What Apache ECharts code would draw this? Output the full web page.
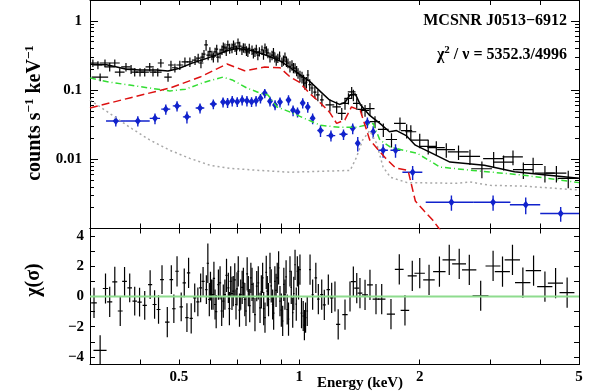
<!DOCTYPE html>
<html>
<head>
<meta charset="utf-8">
<script src="https://cdn.jsdelivr.net/npm/echarts@6/dist/echarts.min.js"></script>
<style>
html, body { margin: 0; padding: 0; background: #fff; }
#chart { width: 593px; height: 392px; }
</style>
</head>
<body>
<div id="chart"></div>
<script>
// pn spectrum: [energy keV, half bin width, counts/s/keV, error]
const pnData = [
  [0.305, 0.010, 0.246, 0.030], [0.314, 0.008, 0.230, 0.030], [0.318, 0.015, 0.154, 0.020],
  [0.327, 0.010, 0.246, 0.030], [0.336, 0.010, 0.216, 0.030], [0.346, 0.010, 0.246, 0.030],
  [0.356, 0.010, 0.182, 0.025], [0.369, 0.010, 0.216, 0.030], [0.380, 0.010, 0.200, 0.030],
  [0.388, 0.008, 0.182, 0.025], [0.400, 0.010, 0.182, 0.025], [0.411, 0.010, 0.182, 0.025],
  [0.423, 0.010, 0.216, 0.030], [0.431, 0.008, 0.182, 0.025], [0.443, 0.010, 0.182, 0.025],
  [0.451, 0.008, 0.246, 0.035], [0.470, 0.010, 0.154, 0.022], [0.478, 0.008, 0.230, 0.035],
  [0.489, 0.008, 0.210, 0.030], [0.503, 0.010, 0.230, 0.035], [0.518, 0.010, 0.255, 0.040],
  [0.533, 0.010, 0.255, 0.040], [0.549, 0.010, 0.270, 0.040], [0.559, 0.008, 0.290, 0.045],
  [0.568, 0.008, 0.246, 0.040], [0.572, 0.006, 0.300, 0.045], [0.578, 0.005, 0.330, 0.050],
  [0.585, 0.006, 0.450, 0.080], [0.592, 0.006, 0.320, 0.050], [0.598, 0.005, 0.360, 0.055],
  [0.605, 0.006, 0.320, 0.050], [0.610, 0.005, 0.300, 0.050], [0.616, 0.006, 0.355, 0.055],
  [0.622, 0.005, 0.390, 0.060], [0.626, 0.006, 0.300, 0.050], [0.634, 0.005, 0.340, 0.055],
  [0.641, 0.006, 0.380, 0.060], [0.646, 0.005, 0.420, 0.065], [0.652, 0.006, 0.406, 0.065],
  [0.657, 0.005, 0.370, 0.060], [0.663, 0.006, 0.450, 0.070], [0.670, 0.005, 0.400, 0.065],
  [0.679, 0.006, 0.406, 0.065], [0.685, 0.005, 0.450, 0.070], [0.691, 0.006, 0.420, 0.065],
  [0.697, 0.005, 0.380, 0.060], [0.703, 0.006, 0.480, 0.075], [0.710, 0.005, 0.430, 0.070],
  [0.719, 0.006, 0.380, 0.060], [0.725, 0.005, 0.410, 0.065], [0.732, 0.006, 0.406, 0.065],
  [0.738, 0.005, 0.370, 0.060], [0.744, 0.006, 0.355, 0.055], [0.750, 0.005, 0.400, 0.065],
  [0.762, 0.006, 0.380, 0.060], [0.768, 0.005, 0.340, 0.055], [0.775, 0.006, 0.355, 0.055],
  [0.781, 0.005, 0.390, 0.060], [0.788, 0.006, 0.320, 0.050], [0.795, 0.005, 0.360, 0.055],
  [0.807, 0.006, 0.380, 0.060], [0.814, 0.005, 0.330, 0.055], [0.821, 0.006, 0.406, 0.065],
  [0.828, 0.005, 0.370, 0.060], [0.835, 0.006, 0.344, 0.055], [0.845, 0.005, 0.300, 0.050],
  [0.855, 0.006, 0.320, 0.050], [0.862, 0.005, 0.350, 0.055], [0.869, 0.006, 0.300, 0.050],
  [0.876, 0.005, 0.270, 0.045], [0.884, 0.006, 0.290, 0.045], [0.893, 0.005, 0.310, 0.050],
  [0.905, 0.006, 0.255, 0.040], [0.913, 0.005, 0.270, 0.045], [0.921, 0.006, 0.300, 0.050],
  [0.929, 0.005, 0.260, 0.045], [0.937, 0.006, 0.246, 0.040], [0.948, 0.005, 0.220, 0.040],
  [0.959, 0.006, 0.230, 0.040], [0.967, 0.005, 0.210, 0.035], [0.976, 0.006, 0.208, 0.035],
  [0.985, 0.005, 0.190, 0.032], [0.993, 0.006, 0.176, 0.030], [1.004, 0.006, 0.160, 0.030],
  [1.016, 0.008, 0.154, 0.030], [1.025, 0.006, 0.140, 0.027], [1.033, 0.008, 0.126, 0.025],
  [1.042, 0.006, 0.130, 0.025], [1.051, 0.008, 0.165, 0.030], [1.062, 0.008, 0.120, 0.023],
  [1.076, 0.010, 0.107, 0.020], [1.094, 0.010, 0.0935, 0.018],
  [1.113, 0.012, 0.085, 0.016], [1.139, 0.012, 0.072, 0.014], [1.193, 0.030, 0.061, 0.012],
  [1.240, 0.030, 0.0573, 0.011], [1.277, 0.030, 0.046, 0.009], [1.301, 0.030, 0.064, 0.012],
  [1.327, 0.030, 0.076, 0.014], [1.352, 0.030, 0.094, 0.017], [1.365, 0.030, 0.085, 0.016],
  [1.392, 0.030, 0.064, 0.012], [1.432, 0.035, 0.0525, 0.010], [1.460, 0.035, 0.051, 0.010],
  [1.502, 0.040, 0.054, 0.011], [1.546, 0.045, 0.035, 0.007], [1.622, 0.050, 0.027, 0.006],
  [1.700, 0.055, 0.0193, 0.0045], [1.785, 0.060, 0.033, 0.007], [1.855, 0.060, 0.026, 0.006],
  [1.900, 0.060, 0.025, 0.006], [2.00, 0.10, 0.0189, 0.0045], [2.10, 0.10, 0.0154, 0.0037],
  [2.20, 0.11, 0.0147, 0.0035], [2.33, 0.12, 0.0138, 0.0033], [2.50, 0.15, 0.0128, 0.0030],
  [2.67, 0.16, 0.0110, 0.0027], [2.86, 0.17, 0.0073, 0.0020], [3.06, 0.18, 0.0102, 0.0025],
  [3.24, 0.19, 0.0091, 0.0022], [3.42, 0.20, 0.0108, 0.0026], [3.63, 0.21, 0.0071, 0.0019],
  [3.84, 0.22, 0.0084, 0.0021], [4.11, 0.24, 0.0063, 0.0017], [4.39, 0.26, 0.0063, 0.0017],
  [4.70, 0.28, 0.0053, 0.0015]
];

// MOS spectrum (blue)
const mosData = [
  [0.348, 0.019, 0.0357, 0.006], [0.395, 0.028, 0.0357, 0.006], [0.436, 0.013, 0.039, 0.007],
  [0.464, 0.012, 0.053, 0.009], [0.495, 0.012, 0.059, 0.010], [0.524, 0.012, 0.041, 0.008],
  [0.565, 0.014, 0.055, 0.009], [0.610, 0.012, 0.063, 0.010], [0.645, 0.008, 0.067, 0.011],
  [0.662, 0.006, 0.066, 0.011], [0.680, 0.006, 0.070, 0.012], [0.700, 0.006, 0.068, 0.011],
  [0.720, 0.006, 0.072, 0.012], [0.740, 0.006, 0.070, 0.012], [0.760, 0.006, 0.068, 0.011],
  [0.780, 0.006, 0.070, 0.012], [0.800, 0.006, 0.076, 0.012], [0.820, 0.006, 0.090, 0.014],
  [0.845, 0.006, 0.069, 0.011], [0.870, 0.006, 0.061, 0.010], [0.895, 0.006, 0.067, 0.011],
  [0.940, 0.008, 0.072, 0.012], [0.965, 0.008, 0.051, 0.009], [0.990, 0.008, 0.048, 0.008],
  [1.020, 0.010, 0.065, 0.011], [1.050, 0.010, 0.057, 0.010], [1.080, 0.010, 0.039, 0.007],
  [1.130, 0.020, 0.026, 0.005], [1.200, 0.030, 0.022, 0.004], [1.290, 0.030, 0.023, 0.004],
  [1.360, 0.020, 0.028, 0.005], [1.400, 0.015, 0.017, 0.004], [1.480, 0.020, 0.034, 0.006],
  [1.530, 0.020, 0.025, 0.005], [1.620, 0.045, 0.0135, 0.003], [1.740, 0.050, 0.0135, 0.003],
  [1.920, 0.110, 0.0065, 0.0015], [2.40, 0.33, 0.0024, 0.0006], [3.05, 0.32, 0.0024, 0.0006],
  [3.68, 0.32, 0.0022, 0.0006], [4.50, 0.50, 0.00165, 0.0004]
];

// residuals: [energy, half bin width, chi, error]
const residData = [
  [0.307, 0.005, -0.42, 1.0], [0.318, 0.012, -3.56, 1.0], [0.328, 0.005, 0.53, 1.0],
  [0.336, 0.005, -0.35, 1.0], [0.346, 0.005, 0.97, 1.0], [0.357, 0.005, -0.96, 1.0],
  [0.366, 0.005, 1.00, 0.95], [0.377, 0.005, 0.57, 0.95], [0.388, 0.005, -0.30, 0.95],
  [0.399, 0.005, -0.37, 0.95], [0.411, 0.005, -0.59, 0.95], [0.424, 0.005, 0.79, 0.95],
  [0.435, 0.005, -0.53, 0.95], [0.445, 0.005, -0.86, 0.95], [0.454, 0.005, 1.12, 0.95],
  [0.468, 0.006, -1.69, 1.0], [0.479, 0.005, 1.12, 0.95], [0.486, 0.005, -0.81, 0.95],
  [0.495, 0.005, 1.67, 1.0], [0.507, 0.005, -0.68, 0.95], [0.516, 0.005, 0.90, 0.95],
  [0.524, 0.005, -1.40, 0.95], [0.529, 0.005, 1.56, 1.0], [0.537, 0.005, -1.45, 1.0],
  [0.548, 0.005, -0.09, 0.95], [0.558, 0.005, -0.35, 0.95], [0.567, 0.005, 0.57, 0.95],
  [0.575, 0.005, 1.00, 0.95], [0.586, 0.004, 0.46, 0.95], [0.591, 0.004, 2.20, 1.3],
  [0.596, 0.004, -0.20, 1.1], [0.600, 0.004, 0.68, 0.95], [0.604, 0.004, 0.13, 1.0],
  [0.609, 0.004, 0.13, 1.0], [0.612, 0.004, 1.20, 1.1], [0.616, 0.004, -0.53, 1.0],
  [0.620, 0.004, -1.00, 1.1], [0.628, 0.004, 0.79, 1.0], [0.634, 0.004, 0.90, 1.1],
  [0.640, 0.004, -0.96, 1.0], [0.646, 0.004, -0.30, 1.1], [0.652, 0.004, 0.13, 1.0],
  [0.658, 0.004, 1.40, 1.1], [0.665, 0.004, 0.57, 1.0], [0.669, 0.004, -0.80, 1.1],
  [0.674, 0.004, 1.00, 1.0], [0.679, 0.004, 0.20, 1.1], [0.684, 0.004, 0.36, 1.0],
  [0.690, 0.004, 1.10, 1.1], [0.695, 0.004, -0.53, 1.0], [0.699, 0.004, 0.50, 1.1],
  [0.704, 0.004, 1.67, 1.0], [0.709, 0.004, -0.90, 1.1], [0.714, 0.004, 0.13, 1.0],
  [0.720, 0.004, 0.60, 1.1], [0.725, 0.004, 0.90, 1.0], [0.731, 0.004, -0.20, 1.1],
  [0.736, 0.004, -0.96, 1.0], [0.741, 0.004, 1.50, 1.1], [0.746, 0.004, 0.36, 1.0],
  [0.752, 0.004, -0.60, 1.1], [0.757, 0.004, 1.23, 1.0], [0.762, 0.004, 0.80, 1.1],
  [0.767, 0.004, -0.09, 1.0], [0.775, 0.004, -1.20, 1.1], [0.783, 0.004, 0.68, 1.0],
  [0.790, 0.004, 0.90, 1.1], [0.798, 0.004, -0.75, 1.0], [0.804, 0.004, 0.30, 1.1],
  [0.810, 0.004, 1.23, 1.0], [0.815, 0.004, -0.80, 1.1], [0.821, 0.004, -1.40, 1.0],
  [0.827, 0.004, 1.60, 1.1], [0.832, 0.004, 0.36, 1.0], [0.838, 0.004, -0.20, 1.1],
  [0.845, 0.004, 1.89, 1.0], [0.851, 0.004, 0.70, 1.1], [0.858, 0.004, -0.53, 1.0],
  [0.863, 0.004, -1.10, 1.1], [0.869, 0.004, 1.00, 1.0], [0.875, 0.004, 0.40, 1.1],
  [0.881, 0.004, 1.23, 1.0], [0.888, 0.004, 1.90, 1.1], [0.895, 0.004, -0.30, 1.0],
  [0.902, 0.004, -0.90, 1.1], [0.909, 0.004, -1.62, 1.0], [0.915, 0.004, 0.80, 1.1],
  [0.921, 0.004, 0.13, 1.0], [0.927, 0.004, 1.30, 1.1], [0.933, 0.004, -0.86, 1.0],
  [0.940, 0.004, -1.50, 1.1], [0.948, 0.004, 1.67, 1.0], [0.955, 0.004, 0.60, 1.1],
  [0.963, 0.004, -1.07, 1.0], [0.969, 0.004, 0.20, 1.1], [0.976, 0.004, 2.10, 1.0],
  [0.983, 0.004, -0.50, 1.1], [0.989, 0.004, 1.67, 1.0], [0.996, 0.004, 0.90, 1.1],
  [1.004, 0.005, 1.78, 1.0],
  [1.013, 0.005, -1.10, 1.0], [1.023, 0.005, -1.29, 1.0], [1.030, 0.005, -1.90, 1.0],
  [1.037, 0.005, -1.40, 1.0], [1.047, 0.005, -0.96, 1.0], [1.064, 0.006, 1.78, 1.0],
  [1.080, 0.006, 0.13, 1.0], [1.100, 0.008, 1.23, 1.0], [1.116, 0.008, -0.17, 1.0],
  [1.138, 0.010, 0.13, 1.0], [1.155, 0.010, -0.55, 1.0], [1.182, 0.012, 0.46, 1.0],
  [1.205, 0.012, -0.09, 1.0], [1.228, 0.015, 0.00, 1.0], [1.251, 0.015, -1.85, 1.0],
  [1.301, 0.020, -1.20, 1.0], [1.339, 0.020, 0.00, 1.0], [1.365, 0.020, 0.99, 1.0],
  [1.392, 0.020, 0.55, 1.0], [1.418, 0.020, 0.22, 1.0], [1.460, 0.025, 0.11, 1.0],
  [1.502, 0.025, 0.77, 1.0], [1.555, 0.030, -0.17, 1.0], [1.607, 0.035, -0.17, 1.0],
  [1.695, 0.040, -1.16, 1.0], [1.778, 0.045, 1.80, 1.0], [1.837, 0.045, -0.92, 1.0],
  [1.916, 0.050, 1.36, 1.0], [2.00, 0.06, 1.54, 1.0], [2.11, 0.07, 1.10, 1.0],
  [2.24, 0.08, 1.65, 1.0], [2.37, 0.09, 2.42, 1.0], [2.51, 0.10, 2.16, 1.0],
  [2.66, 0.11, 1.76, 1.0], [2.84, 0.13, 0.05, 1.0], [3.05, 0.13, 2.02, 1.0],
  [3.22, 0.14, 1.65, 1.0], [3.41, 0.15, 2.42, 1.0], [3.62, 0.16, 0.92, 1.0],
  [3.85, 0.17, 1.71, 1.0], [4.11, 0.18, 0.66, 1.0], [4.37, 0.19, 0.88, 1.0],
  [4.67, 0.20, 0.26, 1.0]
];

// models: [energy, counts/s/keV]
const modelTotal = [
  [0.30, 0.235], [0.33, 0.232], [0.35, 0.215], [0.37, 0.200], [0.40, 0.195], [0.44, 0.195],
  [0.47, 0.188], [0.50, 0.205], [0.54, 0.245], [0.58, 0.280], [0.62, 0.320], [0.66, 0.370],
  [0.70, 0.400], [0.75, 0.380], [0.80, 0.340], [0.85, 0.300], [0.90, 0.260], [0.95, 0.210],
  [1.00, 0.170], [1.06, 0.135], [1.13, 0.095], [1.19, 0.072], [1.26, 0.062], [1.30, 0.066],
  [1.34, 0.085], [1.38, 0.088], [1.42, 0.062], [1.50, 0.043], [1.59, 0.033], [1.68, 0.025],
  [1.75, 0.026], [1.85, 0.022], [1.95, 0.016], [2.10, 0.013], [2.38, 0.0091], [2.90, 0.0082],
  [3.45, 0.0066], [4.20, 0.0059], [5.00, 0.0053]
];
const modelRed = [
  [0.30, 0.055], [0.377, 0.077], [0.475, 0.107], [0.565, 0.154], [0.66, 0.238], [0.73, 0.190],
  [0.82, 0.215], [0.895, 0.210], [0.95, 0.154], [1.00, 0.130], [1.06, 0.090], [1.13, 0.065],
  [1.19, 0.048], [1.24, 0.033], [1.30, 0.037], [1.35, 0.057], [1.42, 0.051], [1.46, 0.031],
  [1.50, 0.019], [1.64, 0.0105], [1.74, 0.0075], [1.87, 0.0069], [1.95, 0.0025], [2.05, 0.0018],
  [2.16, 0.0013], [2.30, 0.0008]
];
const modelGreen = [
  [0.30, 0.150], [0.336, 0.130], [0.377, 0.118], [0.423, 0.107], [0.475, 0.097], [0.52, 0.103],
  [0.58, 0.130], [0.645, 0.154], [0.68, 0.140], [0.74, 0.107], [0.80, 0.090], [0.835, 0.085],
  [0.88, 0.057], [0.95, 0.048], [1.03, 0.039], [1.13, 0.031], [1.26, 0.029], [1.39, 0.029],
  [1.53, 0.033], [1.59, 0.019], [1.69, 0.015], [1.82, 0.0135], [1.97, 0.0122], [2.25, 0.0077],
  [2.72, 0.0069], [3.63, 0.0059], [5.00, 0.0046]
];
const modelGray = [
  [0.30, 0.072], [0.336, 0.046], [0.377, 0.029], [0.423, 0.019], [0.475, 0.0135], [0.533, 0.0103],
  [0.598, 0.0082], [0.671, 0.0074], [0.798, 0.0069], [0.948, 0.0065], [1.34, 0.0069], [1.39, 0.0107],
  [1.44, 0.019], [1.50, 0.026], [1.56, 0.017], [1.62, 0.0077], [1.69, 0.0055], [1.86, 0.0046],
  [2.48, 0.0045], [2.67, 0.0047], [3.00, 0.0042], [3.63, 0.0041], [5.00, 0.0036]
];

const xRange = [0.3, 5];
const yRange = [0.001, 2];
const residRange = [-4.5, 4.5];
const xTickVals = [0.4, 0.5, 0.6, 0.7, 0.8, 0.9, 1, 2, 3, 4, 5];
const xLabelVals = [0.5, 1, 2, 5];
const yMajorVals = [0.001, 0.01, 0.1, 1];
const yLabelVals = [0.01, 0.1, 1];
const residTickVals = [-4, -3, -2, -1, 0, 1, 2, 3, 4];
const residLabelVals = [-4, -2, 0, 2, 4];

const lg = Math.log10;
const FONT = 'Liberation Serif';

const yMinorVals = [];
[0.001, 0.01, 0.1, 1].forEach(d => {
  for (let k = 2; k <= 9; k++) if (k * d <= yRange[1]) yMinorVals.push(k * d);
});

function specRows(rows) {
  return rows.map(r => [lg(r[0]), lg(r[0] - r[1]), lg(r[0] + r[1]),
    lg(r[2]), lg(Math.max(r[2] - r[3], 1e-5)), lg(r[2] + r[3])]);
}
function residRows(rows) {
  return rows.map(r => [lg(r[0]), lg(r[0] - r[1]), lg(r[0] + r[1]),
    r[2], r[2] - r[3], r[2] + r[3]]);
}
function modelRows(rows) {
  return rows.map(r => [lg(r[0]), lg(r[1])]);
}

function crosses(color, width, diamond) {
  return function (params, api) {
    const c = api.coord([api.value(0), api.value(3)]);
    const xa = api.coord([api.value(1), api.value(3)])[0];
    const xb = api.coord([api.value(2), api.value(3)])[0];
    const ya = api.coord([api.value(0), api.value(4)])[1];
    const yb = api.coord([api.value(0), api.value(5)])[1];
    const style = { stroke: color, lineWidth: width };
    const kids = [
      { type: 'line', shape: { x1: xa, y1: c[1], x2: xb, y2: c[1] }, style },
      { type: 'line', shape: { x1: c[0], y1: ya, x2: c[0], y2: yb }, style }
    ];
    if (diamond) {
      kids.push({ type: 'polygon',
        shape: { points: [[c[0], c[1] - 4], [c[0] + 3, c[1]], [c[0], c[1] + 4], [c[0] - 3, c[1]]] },
        style: { fill: color } });
    }
    return { type: 'group', children: kids };
  };
}

const lblStyle = { fontFamily: FONT, fontSize: 15, fontWeight: 'bold', color: '#000' };
const lineStyle = { color: '#000', width: 1 };

function xAx(grid, pos, labels) {
  return {
    type: 'value', gridIndex: grid, position: pos, min: lg(xRange[0]), max: lg(xRange[1]),
    axisLine: { show: true, onZero: false, lineStyle },
    axisTick: { show: true, inside: true, length: 5, customValues: xTickVals.map(lg), lineStyle },
    axisLabel: labels ? Object.assign({ show: true, margin: 5, customValues: xLabelVals.map(lg),
      formatter: v => String(Math.round(Math.pow(10, v) * 10) / 10) }, lblStyle) : { show: false },
    splitLine: { show: false }
  };
}
function yTopAx(pos, vals, len, labels) {
  return {
    type: 'value', gridIndex: 0, position: pos, min: lg(yRange[0]), max: lg(yRange[1]),
    axisLine: { show: true, onZero: false, lineStyle },
    axisTick: { show: true, inside: true, length: len, customValues: vals.map(lg), lineStyle },
    axisLabel: labels ? Object.assign({ show: true, margin: 8, customValues: yLabelVals.map(lg),
      formatter: v => String(Math.round(Math.pow(10, v) * 1000) / 1000) }, lblStyle) : { show: false },
    splitLine: { show: false }
  };
}
function yResAx(pos, labels) {
  return {
    type: 'value', gridIndex: 1, position: pos, min: residRange[0], max: residRange[1],
    axisLine: { show: true, onZero: false, lineStyle },
    axisTick: { show: true, inside: true, length: 5, customValues: residTickVals, lineStyle },
    axisLabel: labels ? Object.assign({ show: true, margin: 6, customValues: residLabelVals,
      formatter: v => (v < 0 ? '\u2212' + (-v) : String(v)) }, lblStyle) : { show: false },
    splitLine: { show: false }
  };
}

const chart = echarts.init(document.getElementById('chart'), null, { renderer: 'canvas' });
chart.setOption({
  animation: false,
  backgroundColor: '#fff',
  grid: [
    { left: 90, right: 14, top: 0, height: 228.5 },
    { left: 90, right: 14, top: 228.5, height: 136 }
  ],
  xAxis: [xAx(0, 'bottom', false), xAx(0, 'top', false), xAx(1, 'bottom', true), xAx(1, 'top', false)],
  yAxis: [
    yTopAx('left', yMajorVals, 8, true), yTopAx('right', yMajorVals, 8, false),
    yTopAx('left', yMinorVals, 4, false), yTopAx('right', yMinorVals, 4, false),
    yResAx('left', true), yResAx('right', false)
  ],
  series: [
    { type: 'line', xAxisIndex: 0, yAxisIndex: 0, data: modelRows(modelGray), symbol: 'none',
      lineStyle: { color: '#a8a8a8', width: 1.5, type: [2, 3] } },
    { type: 'line', xAxisIndex: 0, yAxisIndex: 0, data: modelRows(modelGreen), symbol: 'none',
      lineStyle: { color: '#33dd33', width: 1.5, type: [6, 3, 1, 3] } },
    { type: 'line', xAxisIndex: 0, yAxisIndex: 0, data: modelRows(modelRed), symbol: 'none',
      lineStyle: { color: '#dd1111', width: 1.5, type: [8, 4] } },
    { type: 'line', xAxisIndex: 0, yAxisIndex: 0, data: modelRows(modelTotal), symbol: 'none',
      lineStyle: { color: '#000', width: 1.5 } },
    { type: 'custom', xAxisIndex: 0, yAxisIndex: 0, data: specRows(mosData), clip: true,
      encode: { x: 0, y: 3 }, renderItem: crosses('#1122cc', 1.4, true) },
    { type: 'custom', xAxisIndex: 0, yAxisIndex: 0, data: specRows(pnData), clip: true,
      encode: { x: 0, y: 3 }, renderItem: crosses('#000', 1.2, false) },
    { type: 'line', xAxisIndex: 2, yAxisIndex: 4, data: [[lg(xRange[0]), 0], [lg(xRange[1]), 0]],
      symbol: 'none', lineStyle: { color: '#8edc8e', width: 2 } },
    { type: 'custom', xAxisIndex: 2, yAxisIndex: 4, data: residRows(residData), clip: true,
      encode: { x: 0, y: 3 }, renderItem: crosses('#000', 1.2, false) }
  ],
  graphic: [
    { type: 'text', x: 567, y: 21, style: { text: 'MCSNR J0513\u22126912', font: 'bold 16px "Liberation Serif"',
      fill: '#000', textAlign: 'right', textVerticalAlign: 'middle' } },
    { type: 'text', x: 567, y: 55, style: { text: '{a|\u03c7}{s|2}{a| / \u03bd = 5352.3/4996}',
      fill: '#000', textAlign: 'right', textVerticalAlign: 'middle',
      rich: { a: { fontFamily: FONT, fontSize: 16, fontWeight: 'bold', lineHeight: 20 },
              s: { fontFamily: FONT, fontSize: 11, fontWeight: 'bold', lineHeight: 12, verticalAlign: 'top' } } } },
    { type: 'text', x: 35, y: 113, rotation: Math.PI / 2,
      style: { text: '{a|counts s}{s|\u22121}{a| keV}{s|\u22121}', fill: '#000',
      textAlign: 'center', textVerticalAlign: 'middle',
      rich: { a: { fontFamily: FONT, fontSize: 20, fontWeight: 'bold', lineHeight: 24 },
              s: { fontFamily: FONT, fontSize: 13, fontWeight: 'bold', lineHeight: 14, verticalAlign: 'top' } } } },
    { type: 'text', x: 34, y: 280, rotation: Math.PI / 2,
      style: { text: '\u03c7(\u03c3)', font: 'bold 20px "Liberation Serif"', fill: '#000',
      textAlign: 'center', textVerticalAlign: 'middle' } },
    { type: 'text', x: 360, y: 383, style: { text: 'Energy (keV)', font: 'bold 15px "Liberation Serif"',
      fill: '#000', textAlign: 'center', textVerticalAlign: 'middle' } }
  ]
});
</script>
</body>
</html>
